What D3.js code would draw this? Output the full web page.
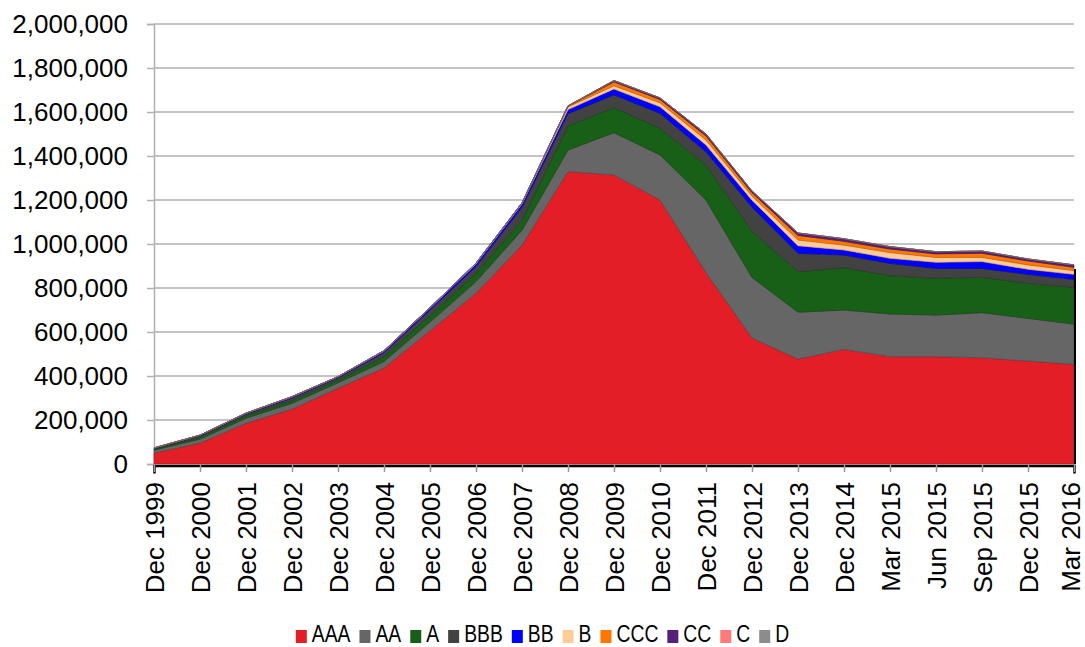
<!DOCTYPE html>
<html>
<head>
<meta charset="utf-8">
<script src="https://cdn.jsdelivr.net/npm/d3@7"></script>
<style>
    body { margin: 0; background: #fff; }
    text { font-family: "Liberation Sans", Arial, sans-serif; fill: #000; }
</style>
</head>
<body>
<div id="chart"></div>
<script>

// categories on the x axis
var categories = ["Dec 1999", "Dec 2000", "Dec 2001", "Dec 2002", "Dec 2003", "Dec 2004",
    "Dec 2005", "Dec 2006", "Dec 2007", "Dec 2008", "Dec 2009", "Dec 2010", "Dec 2011",
    "Dec 2012", "Dec 2013", "Dec 2014", "Mar 2015", "Jun 2015", "Sep 2015", "Dec 2015", "Mar 2016"];

// series values, one array per rating
var aaa = [50000, 95000, 185000, 249000, 344000, 436000, 605000, 776000, 995000, 1329000, 1314000,
    1200000, 870000, 573000, 477000, 521000, 488000, 488000, 483000, 468000, 453000];
var aa = [13000, 18000, 23000, 27000, 25000, 30000, 40000, 53000, 68000, 98000, 192000,
    205000, 330000, 275000, 213000, 179000, 194000, 189000, 205000, 194000, 183000];
var a = [5000, 9000, 12000, 12000, 13000, 22000, 30000, 38000, 45000, 110000, 114000,
    121000, 159000, 210000, 184000, 192000, 174000, 167000, 161000, 159000, 167000];
var bbb = [3000, 6000, 7000, 12000, 10000, 18000, 25000, 30000, 59000, 56000, 58000,
    68000, 60000, 110000, 84000, 58000, 56000, 45000, 40000, 41000, 36000];
var bb = [2000, 3000, 3000, 4000, 4000, 6000, 8000, 12000, 15000, 18000, 27000,
    30000, 31000, 31000, 34000, 23000, 23000, 28000, 31000, 23000, 23000];
var b = [0, 0, 1000, 2000, 1000, 3000, 3000, 3000, 4000, 12000, 14000,
    18000, 23000, 19000, 26000, 22000, 26000, 22000, 19000, 20000, 17000];
var ccc = [0, 0, 0, 0, 0, 0, 0, 1000, 1000, 4000, 18000,
    15000, 18000, 15000, 21000, 17000, 16000, 16000, 19000, 18000, 15000];
var cc = [0, 0, 0, 0, 0, 0, 0, 0, 0, 1000, 6000,
    7000, 9000, 8000, 11000, 12000, 11000, 10000, 10000, 9000, 11000];
var c = [0, 0, 0, 0, 0, 0, 0, 0, 0, 0, 0,
    0, 0, 0, 0, 0, 0, 0, 0, 0, 0];
var d = [0, 0, 0, 0, 0, 0, 0, 0, 0, 0, 0,
    0, 0, 0, 0, 0, 0, 0, 0, 0, 0];

// series names and tick labels
var seriesNames = ["AAA", "AA", "A", "BBB", "BB", "B", "CCC", "CC", "C", "D"];
var seriesValues = [aaa, aa, a, bbb, bb, b, ccc, cc, c, d];
var yTicks = [0, 200000, 400000, 600000, 800000, 1000000, 1200000, 1400000, 1600000, 1800000, 2000000];

var colors = ["#e31e27", "#666666", "#186018", "#424242", "#0000ff", "#ffcc99", "#ff7700", "#55207a", "#ff7a7a", "#8c8c8c"];
var strokes = ["#a8161c", "#4a4a4a", "#0f420f", "#2e2e2e", "#0000b0", "#d9a577", "#c45a00", "#3b1456", "#c45a5a", "#666666"];

// svg size
var svgWidth = 1085;
var svgHeight = 647;

// plot area
var margin = { top: 24, left: 154, right: 11, bottom: 183 };
var width = svgWidth - margin.left - margin.right;
var height = svgHeight - margin.top - margin.bottom;

var svg = d3.select("#chart")
    .append("svg")
    .attr("width", svgWidth)
    .attr("height", svgHeight);

var chartGroup = svg.append("g")
    .attr("transform", `translate(${margin.left}, ${margin.top})`);

// build table for the stack
var table = categories.map(function(cat, i) {
    var row = { cat: cat };
    seriesNames.forEach(function(name, j) {
        row[name] = seriesValues[j][i];
    });
    return row;
});

var stacked = d3.stack().keys(seriesNames)(table);

// scales
var xScale = d3.scalePoint()
    .domain(categories)
    .range([0, width]);

var yScale = d3.scaleLinear()
    .domain([0, 2000000])
    .range([height, 0]);

// gridlines
chartGroup.append("g")
    .selectAll("line")
    .data(yTicks.slice(1))
    .enter()
    .append("line")
    .attr("x1", 0)
    .attr("x2", width)
    .attr("y1", t => yScale(t))
    .attr("y2", t => yScale(t))
    .attr("stroke", "#b0b0b0")
    .attr("stroke-width", 1.5);

// y axis
var yAxis = d3.axisLeft(yScale)
    .tickValues(yTicks)
    .tickSize(7)
    .tickPadding(19)
    .tickFormat(d3.format(","));

var yAxisGroup = chartGroup.append("g").call(yAxis);
yAxisGroup.select(".domain").attr("stroke", "#b0b0b0").attr("stroke-width", 1.5);
yAxisGroup.selectAll(".tick line").attr("stroke", "#b0b0b0").attr("stroke-width", 1.5);
yAxisGroup.selectAll("text")
    .attr("font-size", "26px")
    .attr("font-family", "'Liberation Sans', Arial, sans-serif")
    .attr("fill", "#000");

// areas
var area = d3.area()
    .x((p, i) => xScale(categories[i]))
    .y0(p => yScale(p[0]))
    .y1(p => yScale(p[1]));

chartGroup.selectAll(".layer")
    .data(stacked)
    .enter()
    .append("path")
    .attr("class", "layer")
    .attr("d", area)
    .attr("fill", (s, i) => colors[i])
    .attr("stroke", (s, i) => strokes[i])
    .attr("stroke-width", 0.7);

// right edge of the stack
var last = categories.length - 1;
var totalLast = d3.sum(seriesValues, s => s[last]);
chartGroup.append("line")
    .attr("x1", width + 1)
    .attr("x2", width + 1)
    .attr("y1", yScale(totalLast) + 4)
    .attr("y2", height)
    .attr("stroke", "#000")
    .attr("stroke-width", 2);

// x axis
var xAxis = d3.axisBottom(xScale)
    .tickSize(8)
    .tickPadding(14);

var xAxisGroup = chartGroup.append("g")
    .attr("transform", `translate(0, ${height})`)
    .call(xAxis);

xAxisGroup.select(".domain").attr("stroke", "#000").attr("stroke-width", 2.5).attr("transform", "translate(0, 1.5)");
xAxisGroup.selectAll(".tick line").attr("stroke", "#999").attr("stroke-width", 1.5);
xAxisGroup.selectAll("text")
    .attr("font-size", "26px")
    .attr("font-family", "'Liberation Sans', Arial, sans-serif")
    .attr("fill", "#000")
    .attr("text-anchor", "end")
    .attr("transform", "rotate(-90)")
    .attr("x", -18)
    .attr("y", (t, i) => i === last ? -4 : 0)
    .attr("dy", "0.36em");

// legend (text a bit narrow like the original)
var legend = svg.append("g");
var legendY = 635;
var squeeze = 0.84;
var items = legend.selectAll("g")
    .data(seriesNames)
    .enter()
    .append("g");

items.append("rect")
    .attr("width", 11)
    .attr("height", 13)
    .attr("y", legendY - 5)
    .attr("fill", (n, i) => colors[i]);

items.append("text")
    .attr("x", 16)
    .attr("y", legendY)
    .attr("dy", "0.3em")
    .attr("font-size", "23px")
    .text(n => n);

// narrow the text and place items one after another, centred on the page
var xPos = 0;
var offsets = [];
items.each(function() {
    offsets.push(xPos);
    var t = d3.select(this).select("text");
    var w = t.node().getComputedTextLength() * squeeze;
    t.attr("textLength", w).attr("lengthAdjust", "spacingAndGlyphs");
    xPos += 16 + w + 9;
});
var legendWidth = xPos - 9;
var startX = (svgWidth - legendWidth) / 2;
items.attr("transform", (n, i) => `translate(${startX + offsets[i]}, 0)`);

</script>
</body>
</html>
